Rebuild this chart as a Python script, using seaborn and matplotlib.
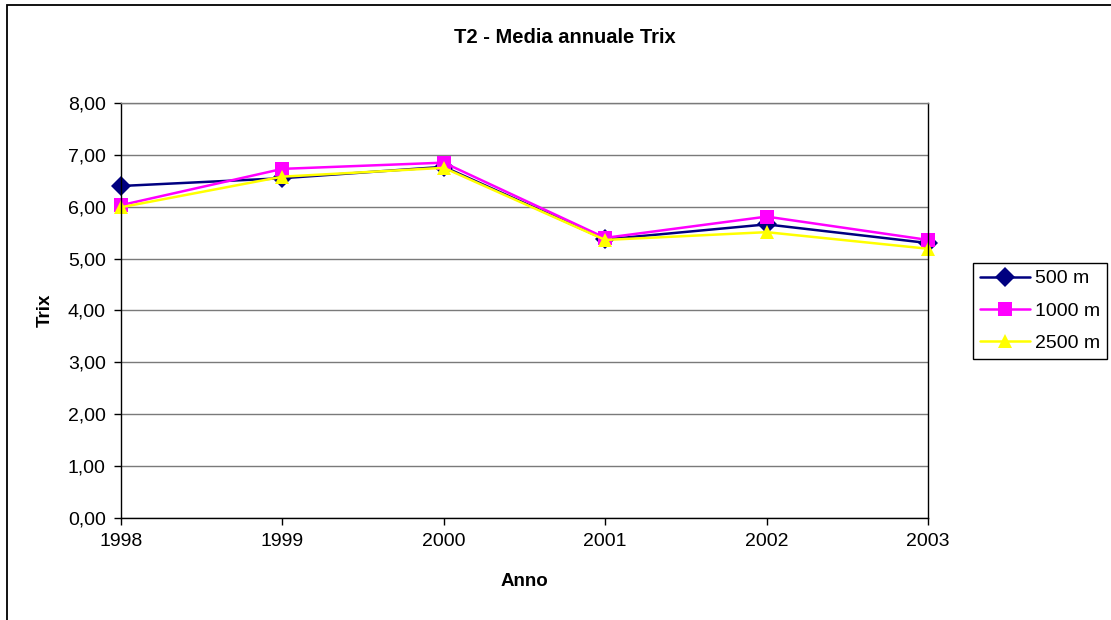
import pandas as pd
import matplotlib.pyplot as plt
import seaborn as sns
from matplotlib.patches import Rectangle
from matplotlib.ticker import FuncFormatter

# Data
anni = [1998, 1999, 2000, 2001, 2002, 2003]
trix_500 = [6.40, 6.55, 6.77, 5.37, 5.66, 5.30]
trix_1000 = [6.03, 6.73, 6.85, 5.40, 5.81, 5.36]
trix_2500 = [5.99, 6.58, 6.75, 5.36, 5.51, 5.19]
serie = ["500 m", "1000 m", "2500 m"]
colori = ["#000080", "#FF00FF", "#FFFF00"]
marker = ["D", "s", "^"]

df = pd.DataFrame({
    "Anno": anni * 3,
    "Trix": trix_500 + trix_1000 + trix_2500,
    "Distanza": [s for s in serie for _ in anni],
})

sns.set_style("white")
plt.rcParams["font.family"] = ["Liberation Sans", "DejaVu Sans"]
plt.rcParams["text.color"] = "black"
plt.rcParams["axes.labelcolor"] = "black"
plt.rcParams["xtick.color"] = "black"
plt.rcParams["ytick.color"] = "black"

fig = plt.figure(figsize=(11.11, 6.2), dpi=100)
ax = fig.add_axes([0.1089, 0.1645, 0.7264, 0.6694])

sns.lineplot(data=df, x="Anno", y="Trix", hue="Distanza", style="Distanza",
             hue_order=serie, style_order=serie, palette=colori,
             markers=dict(zip(serie, marker)), dashes=False,
             linewidth=1.8, markersize=10, markeredgewidth=0, ax=ax)
for ln in ax.lines:
    ln.set_clip_on(False)

ax.set_xlim(1998, 2003)
ax.set_ylim(0, 8)
ax.set_xticks(anni)
ax.set_yticks(range(0, 9))
ax.yaxis.set_major_formatter(FuncFormatter(lambda v, p: f"{v:.2f}".replace(".", ",")))
ax.grid(axis="y", color="#7a7a7a", linewidth=1)
ax.set_axisbelow(True)
for s in ax.spines.values():
    s.set_color("black")
    s.set_linewidth(1)
ax.spines["top"].set_color("#7a7a7a")
ax.tick_params(axis="both", direction="out", length=5, width=1, color="black",
               labelsize=14, pad=6, bottom=True, left=True)

ax.set_xlabel("Anno", fontsize=13.5, fontweight="bold", labelpad=16)
ax.set_ylabel("Trix", fontsize=13.5, fontweight="bold", labelpad=10)
fig.text(0.508, 0.94, "T2 - Media annuale Trix", ha="center", va="center",
         fontsize=14.5, fontweight="bold")

leg = ax.legend(title=None, loc="upper left", bbox_to_anchor=(0.8758, 0.5758),
                bbox_transform=fig.transFigure, borderaxespad=0, fontsize=14,
                frameon=True, fancybox=False, framealpha=1, handlelength=2.6,
                borderpad=0.35, labelspacing=0.75, handletextpad=0.25)
leg.get_frame().set_edgecolor("black")
leg.get_frame().set_linewidth(1)

# outer chart border (cropped at right and bottom)
fig.patches.append(Rectangle((7 / 1111, -0.1), 1.2, 1.092, transform=fig.transFigure,
                             fill=False, edgecolor="black", linewidth=1.3))

fig.savefig("out.png", dpi=100)
